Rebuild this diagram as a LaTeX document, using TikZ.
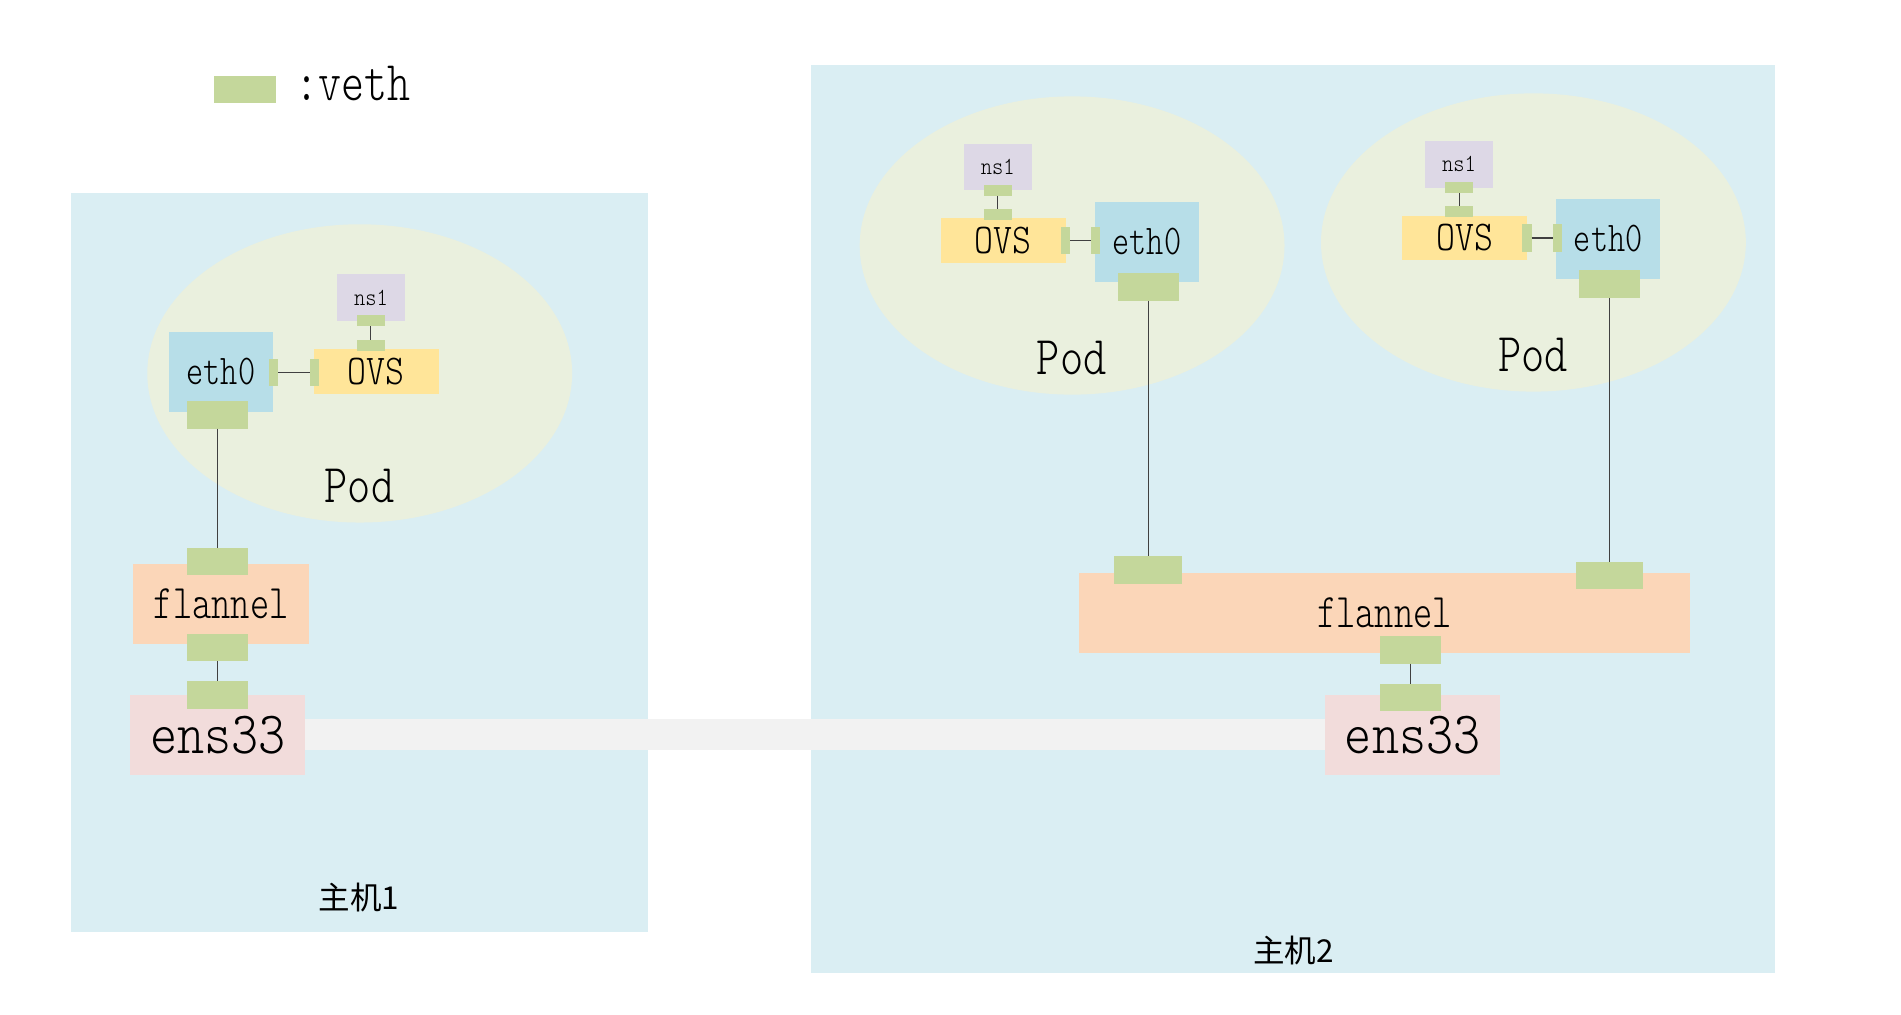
\documentclass[tikz,border=0pt]{standalone}
\usepackage{fontspec}
\usetikzlibrary{shapes.geometric}
\newfontfamily\cjk{Noto Sans CJK SC}
\newfontfamily\lmlight{lmmonolt10-regular.otf}
\definecolor{hostc}{HTML}{DAEEF3}
\definecolor{podc}{HTML}{EAF0DE}
\definecolor{ethc}{HTML}{B7DEE8}
\definecolor{ovsc}{HTML}{FFE599}
\definecolor{nsc}{HTML}{DDD8E6}
\definecolor{vethc}{HTML}{C4D79B}
\definecolor{flc}{HTML}{FBD6B8}
\definecolor{ensc}{HTML}{F2DCDB}
\definecolor{linkc}{HTML}{F2F2F2}
\definecolor{wirec}{HTML}{404040}
\newcommand\dtxt[3]{\scalebox{#2}[1]{\fontsize{#1}{#1}\selectfont\lmlight #3}}
\begin{document}
\begin{tikzpicture}[x=1pt,y=-1pt,
  blk/.style={inner sep=0pt, outer sep=0pt, draw=none, text=black},
  host/.style={blk, fill=hostc},
  pod/.style={ellipse, blk, fill=podc, minimum width=350.4pt, minimum height=246pt},
  ethbox/.style={blk, fill=ethc, minimum width=85.6pt, minimum height=66pt},
  ovsbox/.style={blk, fill=ovsc, minimum width=102.7pt, minimum height=37pt},
  nsbox/.style={blk, fill=nsc, minimum width=55.8pt, minimum height=38.4pt},
  flbox/.style={blk, fill=flc, minimum height=66pt},
  ensbox/.style={blk, fill=ensc, minimum width=144.7pt, minimum height=66pt},
  vethb/.style={blk, fill=vethc, minimum width=50.3pt, minimum height=22.7pt},
  vethw/.style={blk, fill=vethc, minimum width=55.8pt, minimum height=22.7pt},
  veths/.style={blk, fill=vethc, minimum width=22.7pt, minimum height=9pt},
  vethv/.style={blk, fill=vethc, minimum width=7.7pt, minimum height=22.5pt},
  wire/.style={draw=wirec, line width=0.9pt},
  linkline/.style={draw=linkc, line width=25.5pt},
  hostlabel/.style={blk, font=\cjk\fontsize{26}{26}\selectfont}
]
\useasboundingbox (0,0) rectangle (1568,837);
\fill[white] (0,0) rectangle (1568,837);

% legend
\node[vethb, minimum width=50.6pt] (legv) at (202.1,73.8) {};
\node[blk] (legt) at (291.5,69.2) {\dtxt{46.3}{0.78}{:veth}};

% hosts
\node[host, minimum width=476.2pt, minimum height=609.8pt] (h1) at (296.4,464.1) {};
\node[host, minimum width=795pt, minimum height=748.3pt] (h2) at (1066.5,428.1) {};

% link between hosts (drawn below the ens33 boxes)
\coordinate (la) at (240,606.2);
\coordinate (lb) at (1100,606.2);
\draw[linkline] (la) -- (lb);

% ---------------- ens33 boxes
\node[ensbox] (ens1) at (179.6,606.05) {\dtxt{49.5}{0.86}{ens33}};
\node[ensbox] (ens2) at (1165.2,606.35) {\dtxt{49.5}{0.86}{ens33}};

% ---------------- host 1
\node[pod] (p1) at (296.7,308) {};
\node[blk] (p1l) at (296.5,401) {\dtxt{45}{0.81}{Pod}};
\node[nsbox] (ns1) at (306,245.35) {\dtxt{20.3}{0.87}{ns1}};
\node[ovsbox] (ovs1) at (310.4,306.15) {\dtxt{35}{0.85}{OVS}};
\node[ethbox] (eth1) at (182.25,306.8) {\dtxt{35}{0.77}{eth0}};
\node[flbox, minimum width=144.9pt] (fl1) at (182.55,498.35) {\dtxt{39.8}{0.76}{flannel}};

\node[veths] (v1n) at (305.85,264.55) {};
\node[veths] (v1o) at (305.85,284.8) {};
\node[vethv] (v1ol) at (259.4,307.45) {};
\node[vethv] (v1er) at (225.85,307.45) {};
\node[vethb] (v1e) at (179.4,342.2) {};
\node[vethb] (v1ft) at (179.4,463.15) {};
\node[vethb] (v1fb) at (179.4,533.9) {};
\node[vethb] (v1en) at (179.4,573.2) {};

% ---------------- host 2, pod A
\node[pod] (p2) at (884.3,202.5) {};
\node[blk] (p2l) at (884,295.5) {\dtxt{45}{0.81}{Pod}};
\node[nsbox] (ns2) at (823,137.9) {\dtxt{20.3}{0.87}{ns1}};
\node[ovsbox] (ovs2) at (827.5,198.35) {\dtxt{35}{0.85}{OVS}};
\node[ethbox] (eth2) at (946,199.45) {\dtxt{35}{0.77}{eth0}};
\node[veths] (v2n) at (823,157.1) {};
\node[veths] (v2o) at (823,177) {};
\node[vethv] (v2or) at (878.95,198.5) {};
\node[vethv] (v2el) at (903.8,198.5) {};
\node[vethb] (v2e) at (947.1,236.55) {};

% ---------------- host 2, pod B
\node[pod] (p3) at (1264.8,200) {};
\node[blk] (p3l) at (1264.6,292.8) {\dtxt{45}{0.81}{Pod}};
\node[nsbox] (ns3) at (1203.35,135.55) {\dtxt{20.3}{0.87}{ns1}};
\node[ovsbox] (ovs3) at (1208.15,196.3) {\dtxt{35}{0.85}{OVS}};
\node[ethbox] (eth3) at (1326.45,196.95) {\dtxt{35}{0.77}{eth0}};
\node[veths] (v3n) at (1203.6,154.8) {};
\node[veths] (v3o) at (1203.6,174.6) {};
\node[vethv] (v3or) at (1259.55,196.3) {};
\node[vethv] (v3el) at (1284.45,196.3) {};
\node[vethb] (v3e) at (1327.6,234.25) {};

% ---------------- host 2 flannel
\node[flbox, minimum width=503.7pt] (fl2) at (1141.95,505.45) {\dtxt{39.8}{0.76}{flannel}};
\node[vethw] (v2ft) at (947.1,470) {};
\node[vethw] (v3ft) at (1327.6,474.8) {};
\node[vethb] (v2fb) at (1163.45,536) {};
\node[vethb] (v2en) at (1163.45,575.45) {};

% wires
\draw[wire] (v1n.south) -- (v1o.north);
\draw[wire] (v1er.east) -- (v1ol.west);
\draw[wire] (v1e.south) -- (v1ft.north);
\draw[wire] (v1fb.south) -- (v1en.north);
\draw[wire] (v2n.south) -- (v2o.north);
\draw[wire] (v2or.east) -- (v2el.west);
\draw[wire] (v2e.south) -- (v2ft.north);
\draw[wire] (v3n.south) -- (v3o.north);
\draw[wire] (v3or.east) -- (v3el.west);
\draw[wire] (v3e.south) -- (v3ft.north);
\draw[wire] (v2fb.south) -- (v2en.north);

% host labels
\node[hostlabel] (h1l) at (296,740) {主机1};
\node[hostlabel] (h2l) at (1066.8,784.4) {主机2};
\end{tikzpicture}
\end{document}
